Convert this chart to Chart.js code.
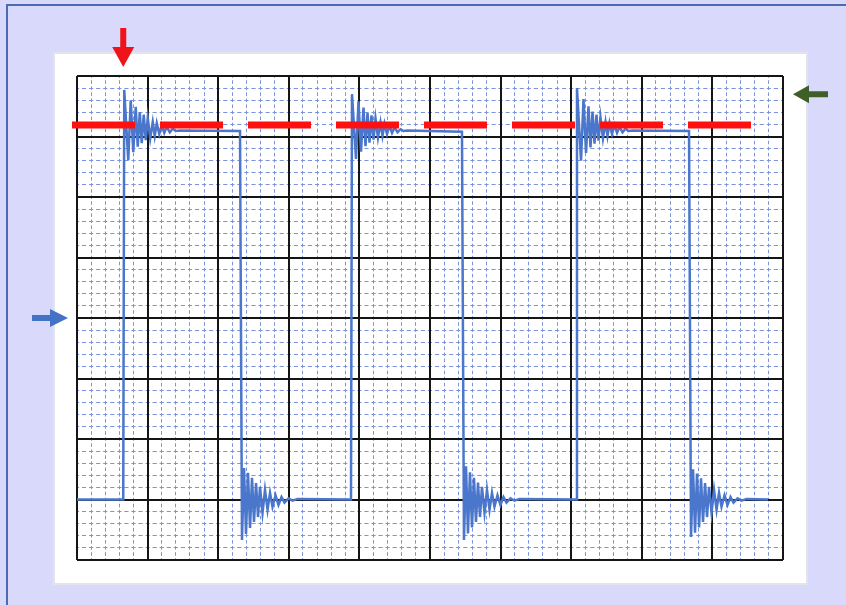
<!DOCTYPE html>
<html>
<head>
<meta charset="utf-8">
<title>Square wave with ringing</title>
<script src="https://cdn.jsdelivr.net/npm/chart.js@4/dist/chart.umd.min.js"></script>
<style>
  html, body { margin: 0; padding: 0; }
  body { width: 846px; height: 605px; background: #d9d9fb; position: relative; overflow: hidden; }
  #frame { position: absolute; left: 6px; top: 4px; right: 0; bottom: 0;
           border-top: 2px solid #4d6bb1; border-left: 2px solid #4d6bb1; }
  #panel { position: absolute; left: 53px; top: 52px; width: 751px; height: 529px;
           background: #ffffff; border: 2px solid #e3e3ea; }
  #scope { position: absolute; left: 0; top: 0; }
</style>
</head>
<body>
<div id="frame"></div>
<div id="panel"></div>
<canvas id="scope" width="846" height="605"></canvas>
<script>
// Screen: 10 horizontal x 8 vertical divisions, values in divisions.
const xDivisions = [0, 10];
const yDivisions = [0, 8];

// Captured trace, [time, level] pairs, edge by edge.
const traceStart = [[0, 1.0]];
const rise1 = [[0.655,1.0],[0.669,7.77],[0.726,6.61],[0.761,7.60],[0.797,6.74],[0.832,7.49],[0.860,6.83],[0.889,7.40],[0.917,6.89],[0.945,7.36],[0.974,6.94],[1.002,7.31],[1.037,6.97],[1.073,7.24],[1.101,7.01],[1.130,7.22],[1.165,7.04],[1.200,7.19],[1.236,7.06],[1.271,7.16],[1.314,7.07],[1.356,7.13],[1.399,7.09],[1.455,7.10]];
const fall1 = [[2.309,7.09],[2.337,0.33],[2.366,1.52],[2.394,0.43],[2.422,1.44],[2.451,0.53],[2.479,1.36],[2.507,0.63],[2.536,1.27],[2.564,0.71],[2.592,1.21],[2.628,0.78],[2.663,1.16],[2.699,0.83],[2.734,1.11],[2.769,0.88],[2.812,1.07],[2.854,0.91],[2.897,1.04],[2.939,0.95],[2.996,1.02],[3.053,0.98],[3.123,1.01]];
const rise2 = [[3.881,1.0],[3.895,7.70],[3.952,6.63],[3.987,7.58],[4.023,6.75],[4.058,7.48],[4.086,6.84],[4.115,7.39],[4.143,6.90],[4.171,7.35],[4.200,6.95],[4.228,7.30],[4.263,6.98],[4.299,7.23],[4.327,7.01],[4.356,7.21],[4.391,7.04],[4.426,7.18],[4.462,7.06],[4.497,7.15],[4.540,7.07],[4.582,7.12],[4.625,7.09],[4.681,7.10]];
const fall2 = [[5.453,7.08],[5.481,0.33],[5.510,1.55],[5.538,0.44],[5.566,1.45],[5.595,0.54],[5.623,1.36],[5.651,0.63],[5.680,1.28],[5.708,0.71],[5.736,1.21],[5.772,0.78],[5.807,1.16],[5.843,0.83],[5.878,1.11],[5.913,0.88],[5.956,1.07],[5.998,0.91],[6.041,1.04],[6.083,0.95],[6.140,1.02],[6.197,0.98],[6.267,1.01]];
const rise3 = [[7.068,1.0],[7.082,7.80],[7.139,6.60],[7.174,7.62],[7.210,6.73],[7.245,7.50],[7.273,6.82],[7.302,7.41],[7.330,6.88],[7.358,7.36],[7.387,6.93],[7.415,7.31],[7.450,6.97],[7.486,7.24],[7.514,7.01],[7.543,7.22],[7.578,7.04],[7.613,7.19],[7.649,7.06],[7.684,7.16],[7.727,7.07],[7.769,7.13],[7.812,7.09],[7.868,7.10]];
const fall3 = [[8.669,7.09],[8.697,0.38],[8.726,1.50],[8.754,0.45],[8.782,1.43],[8.811,0.54],[8.839,1.35],[8.867,0.63],[8.896,1.27],[8.924,0.71],[8.952,1.21],[8.988,0.78],[9.023,1.16],[9.059,0.83],[9.094,1.11],[9.129,0.88],[9.172,1.07],[9.214,0.91],[9.257,1.04],[9.299,0.95],[9.356,1.02],[9.413,0.98],[9.483,1.01]];
const traceEnd = [[9.788, 1.0]];

// Threshold line (level and horizontal extent) and the three markers.
const thresholdLevel = 7.19;
const thresholdSpan = [-0.071, 9.547];
const triggerTime = 0.655;   // red marker above the screen
const groundLevel = 4.0;     // blue marker on the left
const triggerLevel = 7.70;   // green marker on the right

const toXY = arr => arr.map(p => ({ x: p[0], y: p[1] }));
const trace = toXY([].concat(traceStart, rise1, fall1, rise2, fall2, rise3, fall3, traceEnd));
const threshold = toXY([[thresholdSpan[0], thresholdLevel], [thresholdSpan[1], thresholdLevel]]);

// Arrow markers drawn on the scales' pixel positions.
const markerPlugin = {
  id: 'markers',
  afterDraw(chart) {
    const { ctx, chartArea, scales } = chart;
    const arrow = (pts, color) => {
      ctx.save();
      ctx.fillStyle = color;
      ctx.beginPath();
      pts.forEach((p, i) => i ? ctx.lineTo(p[0], p[1]) : ctx.moveTo(p[0], p[1]));
      ctx.closePath();
      ctx.fill();
      ctx.restore();
    };
    // red, pointing down
    const rx = scales.x.getPixelForValue(triggerTime);
    const rt = chartArea.top - 9;
    arrow([[rx, rt], [rx - 11, rt - 20], [rx - 3, rt - 20], [rx - 3, rt - 39],
           [rx + 3, rt - 39], [rx + 3, rt - 20], [rx + 11, rt - 20]], '#ee1419');
    // blue, pointing right
    const by = scales.y.getPixelForValue(groundLevel);
    const bt = chartArea.left - 9;
    arrow([[bt, by], [bt - 18, by - 9], [bt - 18, by - 3], [bt - 36, by - 3],
           [bt - 36, by + 3], [bt - 18, by + 3], [bt - 18, by + 9]], '#4472c4');
    // green, pointing left
    const gy = scales.y.getPixelForValue(triggerLevel);
    const gt = chartArea.right + 10;
    arrow([[gt, gy], [gt + 16, gy - 9], [gt + 16, gy - 3], [gt + 35, gy - 3],
           [gt + 35, gy + 3], [gt + 16, gy + 3], [gt + 16, gy + 9]], '#3e5f27');
  }
};

new Chart(document.getElementById('scope'), {
  type: 'line',
  data: {
    datasets: [
      {
        data: threshold,
        borderColor: '#ff1010',
        borderWidth: 7,
        borderDash: [63, 25],
        borderCapStyle: 'butt',
        pointRadius: 0,
        clip: false
      },
      {
        data: trace,
        borderColor: '#4a76cc',
        borderWidth: 2.5,
        pointRadius: 0,
        tension: 0,
        borderJoinStyle: 'miter'
      }
    ]
  },
  options: {
    responsive: false,
    animation: false,
    events: [],
    layout: { padding: { left: 77, top: 76, right: 63, bottom: 45 } },
    plugins: { legend: { display: false }, tooltip: { enabled: false } },
    scales: {
      xm: {
        type: 'linear', axis: 'x', position: 'bottom',
        min: xDivisions[0], max: xDivisions[1],
        ticks: { display: false, stepSize: 0.2 },
        grid: { color: '#7d93dc', lineWidth: 1, drawTicks: false, z: -2 },
        border: { display: false, dash: [3.6, 2.45], dashOffset: 1.8 }
      },
      ym: {
        type: 'linear', axis: 'y', position: 'left',
        min: yDivisions[0], max: yDivisions[1],
        ticks: { display: false, stepSize: 0.2 },
        grid: { color: '#7d93dc', lineWidth: 1, drawTicks: false, z: -2 },
        border: { display: false, dash: [4.2, 2.86], dashOffset: 2.1 }
      },
      x: {
        type: 'linear', position: 'bottom',
        min: xDivisions[0], max: xDivisions[1],
        ticks: { display: false, stepSize: 1 },
        grid: { color: '#151515', lineWidth: 2, drawTicks: false, z: -1 },
        border: { display: false }
      },
      y: {
        type: 'linear', position: 'left',
        min: yDivisions[0], max: yDivisions[1],
        ticks: { display: false, stepSize: 1 },
        grid: { color: '#151515', lineWidth: 2, drawTicks: false, z: -1 },
        border: { display: false }
      }
    }
  },
  plugins: [markerPlugin]
});
</script>
</body>
</html>
